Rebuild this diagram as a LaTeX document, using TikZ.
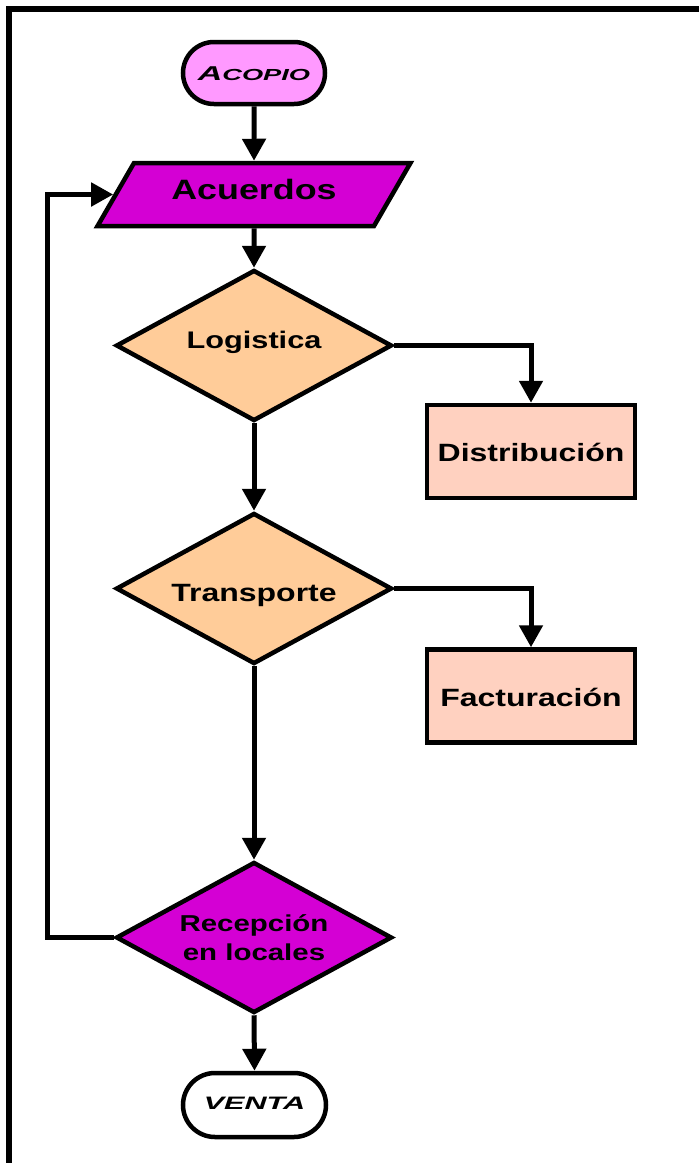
\documentclass[tikz,border=0pt]{standalone}
\usepackage{fontspec}
\setmainfont{Liberation Sans}[FakeStretch=1.28]
\newfontfamily\widefont{Liberation Sans}[FakeStretch=1.7]
\usetikzlibrary{shapes.geometric,shapes.misc,arrows.meta}

\definecolor{lightpink}{HTML}{FF99FF}
\definecolor{deepmagenta}{HTML}{D400D4}
\definecolor{peach}{HTML}{FFCC99}
\definecolor{salmon}{HTML}{FFD1C0}

\tikzset{
  base/.style={draw=black, line width=4.5pt, inner sep=0pt, text=black},
  terminal/.style={base, rounded rectangle, minimum width=142pt, minimum height=62pt},
  iobox/.style={base, trapezium, trapezium left angle=51, trapezium right angle=129,
    trapezium stretches=true, minimum width=313pt, minimum height=63pt, fill=deepmagenta},
  decision/.style={base, diamond, aspect=1.83, minimum width=276pt, minimum height=151pt},
  process/.style={base, rectangle, minimum width=208pt, minimum height=93pt, fill=salmon},
  flow/.style={line width=5pt, -{Triangle[length=22pt,width=23pt]}},
  frame/.style={line width=6pt}
}

\begin{document}
\begin{tikzpicture}[x=1pt,y=-1pt]
  \useasboundingbox (0,0) rectangle (699,1163);

  % outer frame (top and left edges)
  \draw[frame] (9,1163) -- (9,9) -- (699,9);

  % nodes
  \node[terminal, fill=lightpink, text height=14.3pt, text depth=0pt]
    (acopio) at (254,73) {\widefont\bfseries\itshape\fontsize{20}{23}\selectfont A\fontsize{16}{19}\selectfont COPIO};
  \node[iobox, font=\bfseries\fontsize{28}{32}\selectfont, text height=20pt, text depth=11pt]
    (acu) at (254,194.5) {Acuerdos};
  \node[decision, fill=peach, font=\bfseries\fontsize{24}{28}\selectfont, text height=17.2pt, text depth=12pt]
    (log) at (254,345.5) {Logistica};
  \node[process, font=\bfseries\fontsize{25}{29}\selectfont, text height=19.9pt, text depth=0pt]
    (dist) at (531,451.5) {Distribución};
  \node[decision, fill=peach, font=\bfseries\fontsize{25}{29}\selectfont, text height=25.3pt, text depth=0pt]
    (trans) at (254,588.5) {Transporte};
  \node[process, font=\bfseries\fontsize{25}{29}\selectfont, text height=21.9pt, text depth=0pt]
    (fact) at (531,696) {Facturación};
  \node[decision, fill=deepmagenta, align=center, font=\bfseries\fontsize{23}{29}\selectfont]
    (rec) at (254,937.5) {Recepción\\en locales};
  \node[terminal, fill=white, minimum width=143pt, minimum height=64pt, text height=12.9pt, text depth=4pt]
    (venta) at (254.5,1105) {\widefont\bfseries\itshape\fontsize{18}{21}\selectfont VENTA};

  % return line column
  \coordinate (loop) at (47,0);

  % connectors
  \draw[flow] (acopio.south) -- (acu.north);
  \draw[flow] (acu.south) -- (log.north);
  \draw[flow] (log.east) -| (dist.north);
  \draw[flow] (log.south) -- (trans.north);
  \draw[flow] (trans.east) -| (fact.north);
  \draw[flow] (trans.south) -- (rec.north);
  \draw[flow] (rec.south) -- (venta.north);
  \draw[flow] (rec.west) -- (rec.west -| loop) |- (acu.west);
\end{tikzpicture}
\end{document}
